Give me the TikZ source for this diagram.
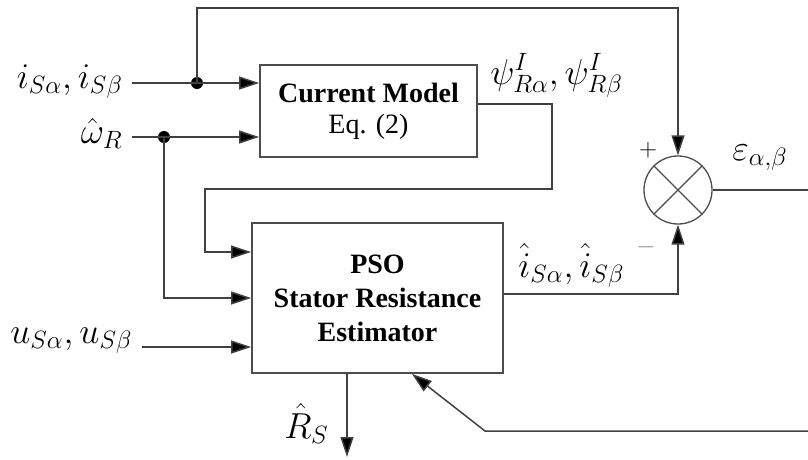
\documentclass[tikz,border=0pt]{standalone}
\usepackage{fontspec}
\setmainfont{Liberation Serif}
\usetikzlibrary{arrows.meta}
\begin{document}
\begin{tikzpicture}[x=1pt,y=-1pt,
  wire/.style={draw=black!75, line width=1.5pt},
  arr/.style={wire,-{Triangle[length=20pt,width=13pt,fill=black]}},
  blk/.style={draw=black!70,line width=1.8pt,fill=white,align=center,inner sep=0pt},
  lab/.style={font=\huge, scale=1.74, inner sep=0pt},
  sgn/.style={font=\fontsize{24}{28}\selectfont, inner sep=0pt},
  dotn/.style={circle,fill=black,minimum size=12pt,inner sep=0pt}]
\useasboundingbox (0,0) rectangle (808,459);
% blocks
\node[blk, minimum width=217pt, minimum height=92pt,
  font=\fontsize{28}{31}\selectfont\bfseries] (cm) at (368.5,111)
  {Current Model\\ \textmd{Eq. (2)}};
\node[blk, minimum width=251pt, minimum height=150pt,
  font=\fontsize{28}{34}\selectfont\bfseries] (pso) at (377.5,298)
  {PSO\\ Stator Resistance\\ Estimator};
\node[circle,draw=black!70,line width=1.3pt,minimum size=68pt,inner sep=0pt] (sum) at (678,190) {};
\draw[black!70,line width=1.2pt] (sum.north west) -- (sum.south east);
\draw[black!70,line width=1.2pt] (sum.north east) -- (sum.south west);
% coordinates
\coordinate (in1) at (132,83);
\coordinate (in2) at (132,137);
\coordinate (in3) at (142,347);
\coordinate (tp) at (678,8);
\coordinate (psiA) at (552,189);
\coordinate (psiB) at (205,252);
\coordinate (rs) at (347,457);
\coordinate (eout) at (808,190);
\coordinate (fb0) at (808,431);
\coordinate (fb1) at (485,431);
% dots
\node[dotn] (d1) at (197,83) {};
\node[dotn] (d2) at (164,137) {};
% connectors
\draw[arr] (in1) -- (cm.west |- in1);
\draw[arr] (in2) -- (cm.west |- in2);
\draw[arr] (d1.center) |- (tp) -- (sum.north);
\draw[arr] (d2.center) |- (pso.west);
\draw[arr] ([yshift=7pt]cm.east) -| (psiA) -| (psiB) -- (pso.west |- psiB);
\draw[arr] (in3) -- (pso.west |- in3);
\draw[arr] (pso.south -| rs) -- (rs);
\draw[arr] ([yshift=4pt]pso.east) -| (sum.south);
\draw[wire] (sum.east) -- (eout);
\draw[arr] (fb0) -- (fb1) -- ([xshift=34.5pt]pso.south);
% labels
\node[lab, anchor=base east] (lis) at (123,88) {$i_{S\alpha}, i_{S\beta}$};
\node[lab, anchor=base east] (lom) at (123,143) {$\hat{\omega}_R$};
\node[lab, anchor=base west] (lpsi) at (490,84) {$\psi^{I}_{R\alpha}, \psi^{I}_{R\beta}$};
\node[lab, anchor=base west] (leps) at (732,160) {$\varepsilon_{\alpha,\beta}$};
\node[sgn] (lplus) at (648,150) {$+$};
\node[sgn, text=black!45] (lminus) at (646,247) {$-$};
\node[lab, anchor=base west] (lih) at (518,277) {$\hat{i}_{S\alpha}, \hat{i}_{S\beta}$};
\node[lab, anchor=base west] (lu) at (10,343) {$u_{S\alpha}, u_{S\beta}$};
\node[lab, anchor=base west] (lr) at (284,438) {$\hat{R}_S$};
\end{tikzpicture}
\end{document}
